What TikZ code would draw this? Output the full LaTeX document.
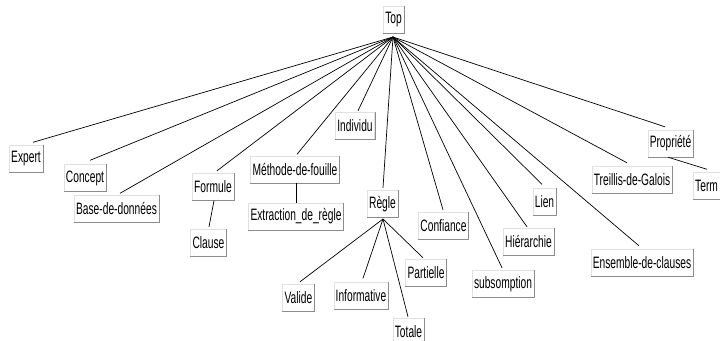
\documentclass[tikz,border=0pt]{standalone}
\usepackage{fontspec}
\setmainfont{Liberation Sans}[FakeStretch=0.62]
\newcommand{\lblfont}{\fontsize{16.5}{18}\selectfont}
\begin{document}
\begin{tikzpicture}[x=1pt,y=-1pt,
  box/.style={draw=black!12, fill=white, inner xsep=2pt, inner ysep=0pt, minimum height=27pt, font=\lblfont},
  boxshade/.style={draw=black!45, line width=0.6pt},
  link/.style={draw=black, line width=0.7pt}]
\useasboundingbox (0,0) rectangle (720,340);
% nodes
\node[box] (top) at (393.5,20) {Top};
\coordinate (topc) at (393,37);
\node[box] (expert) at (26,159) {Expert};
\node[box] (concept) at (85,178) {Concept};
\node[box] (base) at (116.5,209) {Base-de-données};
\node[box] (formule) at (213,187) {Formule};
\node[box] (clause) at (208.5,242.5) {Clause};
\node[box] (methode) at (295,169.5) {Méthode-de-fouille};
\node[box] (extraction) at (296,216.5) {Extraction\_de\_règle};
\node[box] (individu) at (355,126) {Individu};
\node[box] (regle) at (382.5,204) {Règle};
\coordinate (regc) at (383,219);
\node[box] (confiance) at (443.5,226) {Confiance};
\node[box] (hierarchie) at (528.5,242) {Hiérarchie};
\node[box] (lien) at (544.5,202) {Lien};
\node[box] (subsomption) at (503,284) {subsomption};
\node[box] (ensemble) at (642,263) {Ensemble-de-clauses};
\node[box] (treillis) at (632,179.5) {Treillis-de-Galois};
\node[box] (propriete) at (670.5,143.5) {Propriété};
\node[box, anchor=west] (term) at (693,186) {Term\phantom{e}};
\node[box] (valide) at (298.5,297.5) {Valide};
\node[box] (informative) at (361,296) {Informative};
\node[box] (partielle) at (426,273) {Partielle};
\node[box] (totale) at (408.5,331.5) {Totale};
% shading edges of boxes
\foreach \n in {top,expert,concept,base,formule,clause,methode,extraction,individu,regle,confiance,hierarchie,lien,subsomption,ensemble,treillis,propriete,term,valide,informative,partielle,totale}
  \draw[boxshade] (\n.north east) -- (\n.south east) -- (\n.south west);
% connectors from Top
\draw[link] (topc) -- ([shift={(7,-3)}]expert.north);
\draw[link] (topc) -- ([shift={(5,-4)}]concept.north);
\draw[link] (topc) -- ([shift={(3.5,-2)}]base.north);
\draw[link] (topc) -- ([shift={(4,-2.5)}]formule.north);
\draw[link] (topc) -- ([shift={(2,-1.5)}]methode.north);
\draw[link] (topc) -- ([shift={(3,-1.5)}]individu.north);
\draw[link] (topc) -- ([shift={(0.5,-2.5)}]regle.north);
\draw[link] (topc) -- ([shift={(-0.5,-2.5)}]confiance.north);
\draw[link] (topc) -- ([shift={(-1,-2.5)}]subsomption.north);
\draw[link] (topc) -- ([shift={(-1.5,-1.5)}]hierarchie.north);
\draw[link] (topc) -- ([shift={(-2.5,-4)}]lien.north);
\draw[link] (topc) -- ([shift={(-3,-3.5)}]ensemble.north);
\draw[link] (topc) -- ([shift={(-5,-3)}]treillis.north);
\draw[link] (topc) -- ([shift={(-5.5,-3)}]propriete.north);
% other connectors
\draw[link] ([xshift=1]formule.south) -- ([shift={(0.5,-2)}]clause.north);
\draw[link] ([xshift=1]methode.south) -- (extraction.north);
\draw[link] ([xshift=-2.5]propriete.south) -- ([shift={(14,-3)}]term.north west);
\draw[link] (regc) -- ([shift={(1.5,-2)}]valide.north);
\draw[link] (regc) -- ([shift={(2,-4)}]informative.north);
\draw[link] (regc) -- ([shift={(-3,-1.5)}]partielle.north);
\draw[link] (regc) -- ([shift={(-0.5,-1)}]totale.north);
\end{tikzpicture}
\end{document}
